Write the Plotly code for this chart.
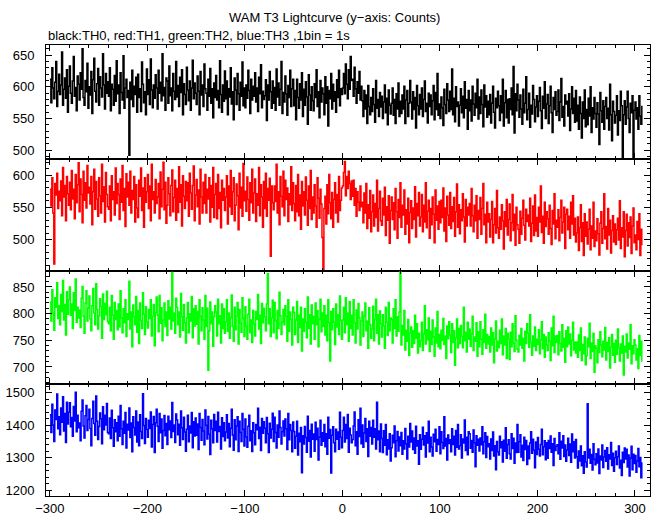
import plotly.graph_objects as go

# time bins: 1 bin = 1 s, starting at t = -300 s
T_START = -300
BIN = 1

TH0 = [
612,575,630,598,581,607,640,569,593,620,
588,603,655,571,596,614,582,627,560,601,
633,590,574,609,648,585,599,562,617,604,
579,622,596,660,583,571,610,592,637,566,
600,587,624,558,611,645,593,576,605,629,
571,616,598,584,652,603,565,621,590,608,
585,630,562,604,596,571,618,577,641,589,
603,558,622,591,579,649,566,598,612,583,
594,492,607,580,626,569,601,588,615,560,
620,583,597,561,639,604,575,592,556,628,
588,611,572,644,595,567,603,582,619,598,
565,626,590,607,578,652,586,599,563,614,
609,574,633,586,598,562,621,593,580,640,
584,602,569,615,591,627,556,605,588,572,
631,595,578,609,563,598,642,581,606,590,
572,617,593,556,624,587,603,569,636,597,
590,563,612,585,629,574,597,551,606,583,
618,579,594,567,641,588,560,603,577,625,
581,609,556,597,584,630,573,592,548,614,
595,572,621,589,563,607,585,639,570,598,
567,603,582,626,594,558,612,579,601,585,
622,576,598,561,615,589,635,567,593,580,
586,611,547,603,579,624,592,566,609,574,
599,563,628,584,606,571,596,640,558,591,
576,617,589,555,602,583,626,569,597,612,
570,594,548,612,583,566,605,579,622,553,
596,571,608,584,541,619,587,563,600,578,
562,605,583,627,569,592,551,610,576,598,
589,556,616,574,600,538,594,581,621,565,
604,577,592,560,611,583,626,570,597,588,
598,621,589,636,604,581,627,596,648,610,
612,585,631,597,574,608,590,624,579,601,
578,553,594,565,587,542,602,569,556,583,
561,597,572,544,610,566,580,553,591,568,
585,550,576,603,559,582,540,595,571,557,
574,598,555,580,542,589,565,606,553,577,
558,587,565,601,542,579,594,553,574,610,
576,549,592,564,583,535,602,570,556,588,
565,598,553,580,609,561,574,543,590,569,
587,556,578,602,548,591,564,621,555,573,
550,584,567,539,596,572,558,605,579,561,
593,564,628,556,582,545,600,569,576,538,
571,597,559,585,551,608,566,580,533,594,
562,579,546,601,573,555,590,567,612,549,
584,558,595,572,537,603,568,586,552,577,
556,588,543,574,601,560,535,582,567,593,
570,547,586,559,612,538,575,594,551,580,
543,581,564,598,556,632,527,589,562,604,
579,552,587,565,541,596,559,574,616,548,
564,590,536,571,557,602,580,545,568,586,
553,577,599,562,534,585,566,608,550,573,
588,542,570,601,559,528,583,564,592,555,
561,595,547,576,613,552,569,538,587,573,
577,554,589,531,565,600,558,582,544,594,
546,571,533,584,558,519,576,550,595,537,
564,540,582,554,600,528,567,549,583,558,
536,575,557,509,591,562,544,578,533,569,
583,550,566,532,604,556,515,577,561,543,
555,586,524,562,547,593,570,476,556,578,
541,568,593,550,528,574,559,586,483,563,
576,549,567,533,586,554,541,570,
]

TH1 = [
578,552,596,541,462,587,569,603,548,575,
560,591,537,612,566,584,529,598,571,553,
589,546,607,563,578,532,601,557,585,619,
543,594,570,526,606,561,588,549,615,572,
581,555,598,523,574,609,547,590,563,536,
596,568,541,617,559,582,527,604,570,551,
547,583,529,599,562,574,538,611,556,587,
570,531,594,558,615,545,579,520,602,566,
589,553,606,541,576,562,598,527,585,549,
534,592,567,611,545,580,519,596,558,574,
601,548,583,529,617,562,574,541,593,556,
566,587,532,605,551,578,620,546,589,525,
553,596,571,537,584,608,543,565,592,530,
579,542,613,558,585,521,599,567,548,590,
560,588,536,603,572,547,584,614,529,569,
593,551,577,524,609,566,541,589,556,601,
541,578,563,596,527,584,550,612,534,570,
587,532,601,548,573,518,592,561,579,545,
566,599,524,583,551,607,539,574,596,529,
553,586,568,515,603,549,581,536,618,560,
575,544,597,562,530,588,557,609,541,572,
594,528,571,553,612,537,585,566,519,590,
548,603,536,579,561,595,474,583,557,546,
583,559,617,541,574,523,598,567,551,606,
537,592,562,580,528,571,554,613,545,588,
556,529,584,543,601,537,569,516,590,552,
574,538,597,561,522,583,548,607,531,566,
541,585,552,519,596,564,533,578,555,503,
452,548,567,524,585,540,601,557,532,573,
519,562,588,541,570,527,598,545,561,580,
583,604,621,568,598,579,606,587,562,591,
567,592,553,579,536,574,558,545,583,551,
558,526,572,541,587,517,554,533,576,512,
543,569,521,556,534,592,513,548,575,529,
522,564,538,581,506,551,530,568,494,545,
566,531,557,515,579,543,502,562,534,588,
519,553,538,577,508,546,524,564,495,542,
560,517,549,531,582,504,556,537,573,521,
535,570,512,553,527,588,518,544,561,502,
548,523,566,539,495,577,530,552,516,559,
526,561,534,580,513,549,497,567,538,522,
573,517,551,528,565,505,543,586,519,554,
509,546,529,571,535,496,562,521,550,538,
556,521,579,537,512,553,529,568,502,545,
531,565,508,548,587,523,539,495,558,527,
540,504,531,559,495,523,548,510,576,518,
502,535,516,554,529,485,543,520,562,507,
531,555,498,526,570,514,539,491,550,523,
516,494,544,508,533,561,522,499,547,528,
538,521,564,497,525,552,506,569,513,534,
505,550,527,583,511,536,494,558,520,543,
532,508,553,517,492,545,524,571,501,530,
519,546,498,534,561,510,527,550,486,539,
547,515,536,502,558,524,568,507,533,496,
510,535,483,518,554,497,526,475,540,505,
527,493,516,547,484,521,502,558,489,513,
498,532,509,476,525,543,494,517,571,501,
520,485,548,507,530,479,514,537,496,524,
492,515,533,499,560,486,518,504,543,473,
514,539,490,526,503,535,478,521,549,495,
507,484,528,500,540,475,516,491,
]

TH2 = [
822,786,845,801,769,830,812,858,791,815,
779,836,804,862,788,817,760,841,799,826,
850,797,818,772,839,806,865,784,812,792,
807,774,829,851,795,763,820,843,786,810,
833,790,768,815,847,801,779,856,808,771,
796,828,813,754,837,789,819,798,842,785,
781,812,768,834,797,752,821,789,806,770,
818,775,843,792,764,809,783,826,757,800,
789,861,771,803,738,816,794,779,832,765,
806,744,820,787,772,839,799,761,813,785,
773,808,791,826,758,795,817,740,802,831,
797,766,834,782,811,749,788,820,776,803,
759,824,790,812,771,877,786,801,763,829,
812,779,803,756,838,794,769,817,783,745,
792,821,764,800,786,832,755,809,777,815,
780,804,743,826,795,768,811,788,752,834,
776,810,694,768,822,781,803,739,794,815,
803,758,827,781,796,745,818,772,809,763,
785,826,767,801,754,793,835,776,748,812,
770,796,821,743,808,782,765,830,791,757,
813,776,752,799,827,764,788,746,806,781,
758,804,789,836,771,797,744,819,783,810,
794,768,818,875,781,809,757,792,825,764,
821,787,753,806,772,840,796,761,784,808,
779,815,795,748,826,767,803,789,741,812,
802,761,788,823,746,797,774,812,730,790,
767,809,784,755,831,772,798,743,816,781,
795,752,820,779,806,738,789,827,766,801,
776,815,760,797,749,826,783,711,804,770,
809,784,742,818,775,798,761,833,787,752,
788,812,764,830,779,801,748,823,772,797,
760,826,783,745,807,771,819,792,741,786,
803,757,795,820,768,786,735,811,779,754,
771,814,749,790,827,763,798,743,805,781,
756,798,777,735,812,784,759,821,768,792,
789,745,809,772,826,758,794,767,803,878,
741,778,760,806,732,769,748,789,722,763,
775,737,768,744,797,754,781,726,763,738,
749,784,731,762,815,743,770,751,792,729,
767,742,788,756,720,773,745,804,738,761,
734,769,750,791,742,758,716,777,753,785,
760,727,781,746,768,703,755,790,736,772,
744,778,757,736,812,749,765,728,784,752,
771,739,762,795,731,756,748,783,720,766,
738,785,752,724,770,746,799,735,761,743,
757,728,773,741,764,708,752,786,730,748,
736,769,744,790,723,758,741,772,716,763,
752,714,765,738,781,745,729,796,750,733,
728,759,741,772,735,754,711,767,744,781,
763,737,798,746,722,758,739,775,731,752,
742,770,725,751,785,734,761,718,756,741,
731,764,748,712,773,740,795,727,758,746,
759,723,766,744,730,779,737,754,709,768,
738,775,743,762,721,750,784,732,747,726,
747,718,760,731,773,712,742,725,756,704,
721,754,738,782,716,745,729,763,690,740,
735,708,751,727,766,741,719,748,732,774,
713,746,729,755,698,737,761,722,744,709,
750,724,771,736,711,743,726,758,685,739,
728,762,717,745,733,779,706,740,725,751,
741,713,734,697,759,722,748,710,
]

TH3 = [
1432,1378,1465,1401,1350,1447,1418,1496,1389,1426,
1371,1453,1409,1488,1382,1436,1347,1471,1404,1440,
1469,1395,1424,1366,1458,1413,1502,1380,1431,1392,
1407,1352,1443,1478,1398,1361,1429,1461,1384,1418,
1449,1390,1337,1421,1474,1405,1369,1490,1412,1356,
1396,1438,1420,1343,1457,1386,1431,1401,1467,1378,
1374,1422,1359,1446,1392,1335,1417,1380,1408,1352,
1428,1366,1461,1389,1341,1412,1375,1439,1330,1403,
1385,1453,1362,1407,1318,1426,1393,1370,1444,1348,
1410,1337,1432,1381,1359,1497,1399,1344,1421,1387,
1363,1415,1390,1441,1333,1402,1427,1316,1408,1449,
1397,1350,1436,1377,1419,1329,1384,1430,1368,1405,
1341,1428,1386,1413,1362,1470,1381,1401,1347,1435,
1416,1371,1403,1338,1444,1392,1356,1425,1379,1320,
1388,1431,1349,1398,1376,1439,1331,1411,1367,1422,
1369,1404,1325,1436,1393,1354,1418,1382,1340,1447,
1400,1358,1427,1372,1310,1415,1389,1346,1433,1384,
1412,1348,1440,1381,1396,1327,1423,1365,1408,1352,
1379,1432,1361,1405,1334,1391,1449,1370,1323,1417,
1355,1398,1426,1319,1412,1378,1350,1436,1388,1336,
1419,1364,1332,1397,1431,1352,1383,1319,1408,1377,
1340,1402,1386,1452,1359,1394,1322,1421,1375,1411,
1391,1346,1424,1374,1316,1406,1361,1388,1437,1350,
1425,1378,1330,1401,1363,1444,1393,1342,1380,1413,
1367,1419,1389,1325,1436,1355,1402,1384,1318,1410,
1381,1329,1366,1412,1308,1375,1349,1393,1254,1368,
1342,1396,1362,1317,1428,1351,1384,1302,1403,1357,
1373,1320,1409,1356,1391,1293,1364,1415,1338,1377,
1351,1402,1334,1374,1311,1425,1360,1387,1253,1369,
1395,1346,1318,1388,1357,1379,1326,1440,1363,1331,
1384,1425,1348,1402,1359,1433,1317,1391,1370,1346,
1356,1398,1441,1337,1380,1311,1417,1365,1452,1343,
1401,1332,1376,1421,1350,1389,1304,1412,1366,1393,
1342,1415,1363,1389,1327,1471,1355,1382,1318,1404,
1359,1316,1383,1338,1402,1309,1355,1327,1374,1290,
1331,1369,1346,1398,1303,1352,1381,1321,1364,1337,
1378,1311,1352,1327,1390,1343,1296,1366,1333,1405,
1348,1382,1325,1361,1314,1397,1336,1352,1280,1371,
1326,1357,1394,1339,1368,1302,1377,1345,1412,1318,
1363,1333,1305,1372,1349,1388,1320,1356,1341,1395,
1312,1380,1347,1328,1426,1336,1359,1293,1370,1344,
1355,1318,1389,1341,1366,1308,1384,1332,1402,1327,
1337,1371,1299,1358,1345,1416,1322,1363,1309,1380,
1374,1329,1353,1317,1385,1346,1272,1368,1338,1357,
1321,1361,1340,1395,1312,1349,1377,1301,1365,1334,
1343,1296,1358,1322,1379,1305,1337,1263,1350,1318,
1308,1366,1331,1349,1287,1354,1320,1392,1298,1341,
1355,1312,1296,1374,1328,1360,1283,1345,1316,1402,
1317,1349,1371,1302,1338,1291,1363,1325,1353,1279,
1336,1297,1345,1380,1314,1357,1323,1269,1348,1310,
1362,1326,1305,1341,1388,1309,1334,1352,1294,1346,
1298,1353,1328,1367,1317,1343,1276,1359,1322,1335,
1340,1312,1377,1295,1351,1330,1368,1304,1339,1289,
1324,1360,1307,1342,1286,1373,1318,1349,1299,1356,
1303,1268,1321,1290,1336,1275,1306,1252,1318,1287,
1271,1466,1299,1326,1283,1310,1262,1343,1295,1278,
1312,1284,1327,1251,1305,1293,1339,1270,1302,1322,
1289,1331,1265,1309,1296,1347,1276,1314,1258,1300,
1320,1279,1303,1336,1268,1292,1245,1317,1285,1330,
1296,1326,1271,1308,1244,1299,1335,1263,1311,1282,
1307,1255,1290,1328,1272,1301,1238,1286,
]

SERIES = [TH0, TH1, TH2, TH3]
NAMES = ["TH0", "TH1", "TH2", "TH3"]
COLORS = ["#000000", "#ff0000", "#00ff00", "#0000ff"]
Y_RANGES = [[486, 666], [451, 625], [668, 880], [1182, 1527]]
Y_DTICK = [50, 50, 50, 100]
Y_MINOR = [10, 10, 10, 20]
X_TICKS = [-300, -200, -100, 0, 100, 200, 300]
X_RANGE = [-304, 315.4]

TITLE = "WAM T3 Lightcurve (y\u2212axis: Counts)"
SUBTITLE = "black:TH0, red:TH1, green:TH2, blue:TH3 ,1bin = 1s"

# panel boundaries (paper fraction)
DOMAINS = [[0.7472, 1.0], [0.4989, 0.7472], [0.2483, 0.4989], [0.0, 0.2483]]

fig = go.Figure()
FONT = dict(family="Liberation Sans, Arial, Helvetica, sans-serif", size=13, color="black")

for i, (vals, name, col) in enumerate(zip(SERIES, NAMES, COLORS)):
    k = "" if i == 0 else str(i + 1)
    x = [T_START + BIN * j for j in range(len(vals))]
    fig.add_trace(go.Scatter(
        x=x, y=vals, name=name, mode="lines",
        line=dict(color=col, width=1.5, shape="hv"),
        xaxis="x" + k, yaxis="y" + k, showlegend=False, hoverinfo="skip",
    ))
    fig.layout["xaxis" + k] = dict(
        domain=[0, 1], range=X_RANGE, anchor="y" + k, automargin=False,
        tickmode="array", tickvals=X_TICKS,
        ticks="inside", ticklen=6, tickwidth=1, tickcolor="black",
        minor=dict(dtick=20, tick0=0, ticks="inside", ticklen=3, tickcolor="black"),
        showline=True, linecolor="black", linewidth=1, mirror="ticks",
        showgrid=False, zeroline=False, ticklabelstandoff=0,
        showticklabels=(i == 3), tickfont=FONT,
    )
    fig.layout["yaxis" + k] = dict(
        domain=DOMAINS[i], range=Y_RANGES[i], anchor="x" + k, automargin=False,
        dtick=Y_DTICK[i], tick0=0,
        ticks="inside", ticklen=6, tickwidth=1, tickcolor="black",
        minor=dict(dtick=Y_MINOR[i], tick0=0, ticks="inside", ticklen=3, tickcolor="black"),
        showline=True, linecolor="black", linewidth=1, mirror="ticks",
        showgrid=False, zeroline=False, ticklabelstandoff=8, tickfont=FONT,
    )

fig.add_annotation(text=TITLE, xref="paper", yref="paper", x=0.477, y=1.062,
                   xanchor="center", yanchor="middle", showarrow=False, font=FONT)
fig.add_annotation(text=SUBTITLE, xref="paper", yref="paper", x=0.0, y=1.022,
                   xanchor="left", yanchor="middle", showarrow=False, font=FONT)

fig.update_layout(
    width=661, height=515,
    margin=dict(l=46, r=11, t=45, b=19),
    paper_bgcolor="white", plot_bgcolor="white",
    font=FONT, hovermode=False,
)

# remove the default 8px page margin so the figure sits at the window origin
fig.write_html("out.html", config={"displayModeBar": False},
               post_script="document.body.style.margin='0px';document.body.style.overflow='hidden';")
